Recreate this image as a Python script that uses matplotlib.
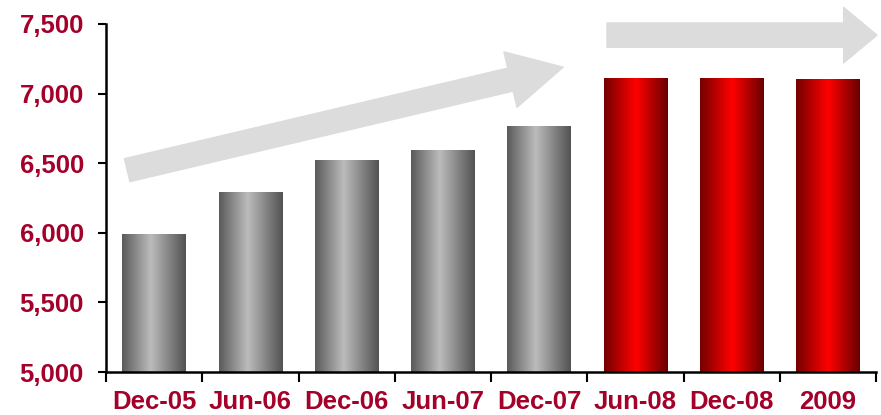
import numpy as np
import matplotlib
matplotlib.use('Agg')
import matplotlib.pyplot as plt
from matplotlib.colors import LinearSegmentedColormap
from matplotlib.ticker import FuncFormatter, FixedLocator

#----- Data
periods = ['Dec-05', 'Jun-06', 'Dec-06', 'Jun-07', 'Dec-07', 'Jun-08', 'Dec-08', '2009']
values = [5990, 6290, 6525, 6595, 6765, 7112, 7112, 7105]
is_red = [False, False, False, False, False, True, True, True]

#----- Style
plt.rcParams['font.family'] = ['Liberation Sans', 'DejaVu Sans']
txt_color = '#A3002A'
gray_cmap = LinearSegmentedColormap.from_list('g', [(0, '#5a5a5a'), (0.45, '#bcbcbc'), (1, '#525252')])
red_cmap = LinearSegmentedColormap.from_list('r', [(0, '#740000'), (0.5, '#ff0000'), (1, '#680000')])

fig = plt.figure(figsize=(8.81, 4.15), dpi=100)
ax = fig.add_axes([106/881, 43/415, 770/881, 348/415])

x = np.arange(len(periods))
bars = ax.bar(x, values, width=0.66, bottom=0, color='none', zorder=2)
grad = np.linspace(0, 1, 256).reshape(1, -1)
for b, red in zip(bars, is_red):
    x0, w = b.get_x(), b.get_width()
    im = ax.imshow(grad, extent=[x0, x0 + w, 5000, b.get_height()], aspect='auto',
                   cmap=red_cmap if red else gray_cmap, zorder=2)
    im.set_clip_path(b)

ax.set_xlim(-0.5, 7.5)
ax.set_ylim(5000, 7500)

# trend arrows
arrow_col = '#dcdcdc'
ax.annotate('', xy=(4.25, 7190), xytext=(-0.28, 6450),
            arrowprops=dict(arrowstyle='simple,head_length=39,head_width=41,tail_width=17',
                            mutation_scale=1, color=arrow_col, shrinkA=0, shrinkB=0),
            annotation_clip=False, zorder=1)
ax.annotate('', xy=(7.51, 7420), xytext=(4.705, 7420),
            arrowprops=dict(arrowstyle='simple,head_length=24,head_width=40,tail_width=17.5',
                            mutation_scale=1, color=arrow_col, shrinkA=0, shrinkB=0),
            annotation_clip=False, zorder=1)

# axes
for s in ['top', 'right']:
    ax.spines[s].set_visible(False)
for s in ['left', 'bottom']:
    ax.spines[s].set_linewidth(1.8)
    ax.spines[s].set_color('black')

ax.set_yticks(np.arange(5000, 7501, 500))
ax.yaxis.set_major_formatter(FuncFormatter(lambda v, p: f'{int(v):,}'))
ax.tick_params(axis='y', length=6, width=1.5, pad=10, labelsize=18.5, labelcolor=txt_color)
for lab in ax.get_yticklabels():
    lab.set_fontweight('bold')

ax.set_xticks(x)
ax.set_xticklabels(periods, fontweight='bold')
ax.xaxis.set_minor_locator(FixedLocator(np.arange(-0.5, 8, 1)))
ax.tick_params(axis='x', which='major', length=0, pad=13, labelsize=18.5, labelcolor=txt_color)
ax.tick_params(axis='x', which='minor', length=7, width=1.5)

fig.savefig('out.png', dpi=100)
plt.close()
